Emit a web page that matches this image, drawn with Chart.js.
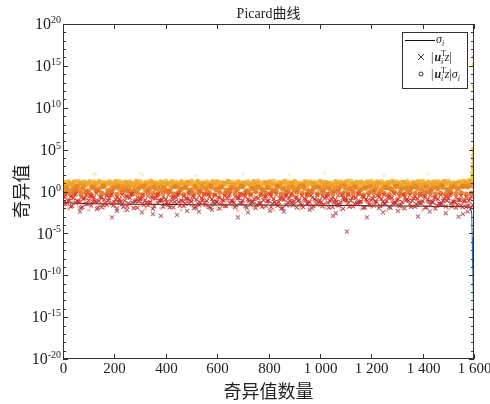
<!DOCTYPE html>
<html>
<head>
<meta charset="utf-8">
<script src="https://cdn.jsdelivr.net/npm/chart.js@4"></script>
<style>
  body { margin: 0; background: #fff; }
  #wrap { width: 490px; height: 404px; }
</style>
</head>
<body>
<div id="wrap"><canvas id="picardChart" width="490" height="404"></canvas></div>
<script>
// --- 1. Data (y values stored as powers of ten) ---
const xTicks = [0, 200, 400, 600, 800, 1000, 1200, 1400, 1600];
const xTickLabels = ['0', '200', '400', '600', '800', '1 000', '1 200', '1 400', '1 600'];
const yTickPowers = [-20, -15, -10, -5, 0, 5, 10, 15, 20];

const idxA = [0,20,40,60,80,100,120,140,160,180,200,220,240,260,280,300,320,340,360,380,
  400,420,440,460,480,500,520,540,560,580,600,620,640,660,680,700,720,740,760,780,
  800,820,840,860,880,900,920,940,960,980,1000,1020,1040,1060,1080,1100,1120,1140,1160,1180,
  1200,1220,1240,1260,1280,1300,1320,1340,1360,1380,1400,1420,1440,1460,1480,1500,1520,1540,1560,1580];
const idxB = [10,30,50,70,90,110,130,150,170,190,210,230,250,270,290,310,330,350,370,390,
  410,430,450,470,490,510,530,550,570,590,610,630,650,670,690,710,730,750,770,790,
  810,830,850,870,890,910,930,950,970,990,1010,1030,1050,1070,1090,1110,1130,1150,1170,1190,
  1210,1230,1250,1270,1290,1310,1330,1350,1370,1390,1410,1430,1450,1470,1490,1510,1530,1550,1570,1590];
const idxC = [5,25,45,65,85,105,125,145,165,185,205,225,245,265,285,305,325,345,365,385,
  405,425,445,465,485,505,525,545,565,585,605,625,645,665,685,705,725,745,765,785,
  805,825,845,865,885,905,925,945,965,985,1005,1025,1045,1065,1085,1105,1125,1145,1165,1185,
  1205,1225,1245,1265,1285,1305,1325,1345,1365,1385,1405,1425,1445,1465,1485,1505,1525,1545,1565,1585];
const idxD = [15,35,55,75,95,115,135,155,175,195,215,235,255,275,295,315,335,355,375,395,
  415,435,455,475,495,515,535,555,575,595,615,635,655,675,695,715,735,755,775,795,
  815,835,855,875,895,915,935,955,975,995,1015,1035,1055,1075,1095,1115,1135,1155,1175,1195,
  1215,1235,1255,1275,1295,1315,1335,1355,1375,1395,1415,1435,1455,1475,1495,1515,1535,1555,1575,1595];

// |u_i^T z| / sigma_i  (circles)
const ratioTop = [1.10,1.18,1.05,1.22,1.12,1.00,1.15,1.20,1.08,1.17,
  1.03,1.21,1.11,1.16,0.98,1.19,1.09,1.24,1.06,1.14,
  1.20,1.02,1.13,1.18,1.07,1.23,1.10,0.99,1.16,1.12,
  1.19,1.05,1.22,1.08,1.15,1.01,1.18,1.11,1.24,1.04,
  1.13,1.20,1.06,1.17,1.10,1.22,0.97,1.15,1.19,1.08,
  1.21,1.12,1.03,1.18,1.14,1.07,1.23,1.09,1.16,1.00,
  1.20,1.11,1.17,1.05,1.22,1.13,1.08,1.19,1.02,1.15,
  1.24,1.10,1.06,1.18,1.12,1.21,1.04,1.16,1.25,1.30];
const ratioUpper = [1.02,0.91,1.15,0.87,1.08,1.19,0.95,1.12,0.89,1.05,
  1.17,0.93,1.10,0.99,1.21,0.86,1.04,1.14,0.92,1.09,
  0.97,1.18,0.88,1.07,1.13,0.94,1.20,1.01,0.90,1.16,
  1.06,0.96,1.19,0.85,1.11,1.03,0.92,1.17,0.98,1.08,
  1.14,0.89,1.05,1.21,0.94,1.10,0.87,1.15,1.00,0.93,
  1.18,1.06,0.91,1.12,0.97,1.20,0.88,1.09,1.03,1.16,
  0.95,1.11,0.86,1.07,1.19,0.99,1.13,0.90,1.04,1.17,
  0.92,1.08,1.15,0.96,1.21,1.01,0.89,1.12,1.10,1.18];
const ratioHigh = [0.72,0.88,0.61,0.93,0.79,0.66,0.85,0.57,0.91,0.74,
  0.83,0.63,0.95,0.70,0.87,0.59,0.81,0.92,0.68,0.77,
  0.90,0.64,0.84,0.73,0.96,0.62,0.80,0.89,0.69,0.86,
  0.58,0.94,0.75,0.82,0.65,0.91,0.71,0.87,0.60,0.93,
  0.78,0.67,0.89,0.74,0.97,0.63,0.85,0.72,0.90,0.61,
  0.83,0.95,0.69,0.79,0.88,0.64,0.92,0.76,0.58,0.86,
  0.73,0.94,0.66,0.81,0.90,0.70,0.87,0.62,0.96,0.77,
  0.84,0.68,0.91,0.75,0.89,0.65,0.93,0.80,0.98,1.05];
const ratioMid = [0.35,0.12,0.48,0.22,0.55,0.08,0.41,0.29,0.58,0.17,
  0.44,0.26,0.51,0.05,0.38,0.60,0.19,0.46,0.31,0.53,
  0.14,0.40,0.57,0.24,0.49,0.10,0.36,0.59,0.21,0.45,
  0.33,0.54,0.16,0.42,0.27,0.56,0.09,0.39,0.50,0.23,
  0.47,0.13,0.58,0.30,0.43,0.18,0.52,0.34,0.06,0.48,
  0.28,0.55,0.20,0.41,0.60,0.15,0.37,0.50,0.25,0.44,
  0.11,0.53,0.32,0.46,0.22,0.57,0.39,0.18,0.51,0.29,
  0.45,0.07,0.54,0.35,0.48,0.26,0.59,0.40,0.62,0.70];
const ratioLower = [0.45,0.18,0.62,0.30,0.05,0.54,0.24,0.68,0.12,0.40,
  0.58,0.21,0.49,0.08,0.36,0.65,0.27,0.52,0.15,0.43,
  0.02,0.60,0.33,0.47,0.19,0.56,0.10,0.39,0.66,0.25,
  0.51,0.14,0.44,0.29,0.63,0.07,0.38,0.55,0.22,0.48,
  0.16,0.61,0.34,0.04,0.50,0.26,0.67,0.11,0.42,0.57,
  0.20,0.46,0.09,0.35,0.64,0.28,0.53,0.13,0.41,0.59,
  0.23,0.06,0.49,0.31,0.62,0.17,0.45,0.37,0.58,0.10,
  0.54,0.27,0.43,0.66,0.19,0.50,0.32,0.60,0.55,0.65];
const ratioLow = [-0.15,-0.32,0.02,-0.25,-0.08,-0.38,0.05,-0.20,-0.30,-0.05,
  -0.35,-0.12,0.04,-0.28,-0.18,-0.40,-0.02,-0.22,-0.33,-0.10,
  0.03,-0.27,-0.14,-0.36,-0.06,-0.24,0.00,-0.31,-0.17,-0.39,
  -0.09,-0.26,0.05,-0.19,-0.34,-0.11,-0.29,-0.03,-0.37,-0.16,
  -0.23,0.01,-0.30,-0.13,-0.41,-0.07,-0.21,-0.35,-0.04,-0.28,
  -0.12,-0.38,-0.18,0.02,-0.26,-0.33,-0.08,-0.23,-0.40,-0.15,
  -0.01,-0.29,-0.19,-0.36,-0.06,-0.25,-0.32,-0.10,-0.22,-0.37,
  -0.14,-0.02,-0.27,-0.20,-0.34,-0.09,-0.24,-0.15,-0.30,-0.18];
const ratioSpeck = [-1.6,-2.1,-1.2,-1.9,-1.4,-2.2,-1.1,-1.7,-2.0,-1.3,
  -1.8,-1.0,-2.3,-1.5,-1.9,-1.2,-2.1,-1.6,-1.4,-2.0,
  -1.1,-1.8,-1.5,-2.2,-1.3,-1.7,-2.0,-1.0,-1.9,-1.4,
  -2.1,-1.6,-1.2,-1.8,-2.3,-1.5,-1.1,-1.9,-1.7,-2.0,
  -1.3,-2.2,-1.6,-1.0,-1.8,-1.4,-2.1,-1.2,-1.9,-1.5,
  -1.7,-2.0,-1.1,-1.6,-2.2,-1.3,-1.8,-1.5,-2.1,-1.0,
  -1.9,-1.4,-1.7,-2.3,-1.2,-1.6,-2.0,-1.1,-1.8,-1.5,
  -2.2,-1.3,-1.9,-1.6,-1.0,-2.1,-1.4,-1.7,-1.2,-1.5];
const faintIdx = [120, 128, 300, 310, 520, 700, 880, 1020, 1250, 1420];
const faintExp = [2.1, 2.1, 2.2, 2.0, 1.9, 2.1, 2.0, 2.2, 1.9, 2.1];
// the last few indices, where sigma collapses
const endIdx = [1591,1592,1593,1594,1595,1595,1596,1596,1597,1597,1598,1598,1599,1599,1600,1600];
const endExp = [1.5,2.2,3.0,1.8,4.0,2.6,5.1,3.4,4.4,2.1,3.8,15.2,4.8,16.1,12.5,3.0];

// |u_i^T z|  (crosses)
const coefHigh = [-0.45,-0.62,-0.28,-0.71,-0.39,-0.55,-0.22,-0.66,-0.48,-0.33,
  -0.74,-0.41,-0.58,-0.26,-0.69,-0.37,-0.52,-0.79,-0.31,-0.60,
  -0.43,-0.68,-0.24,-0.56,-0.35,-0.72,-0.47,-0.29,-0.63,-0.40,
  -0.76,-0.51,-0.34,-0.65,-0.27,-0.59,-0.44,-0.70,-0.32,-0.54,
  -0.61,-0.38,-0.75,-0.46,-0.23,-0.67,-0.50,-0.36,-0.73,-0.42,
  -0.57,-0.30,-0.64,-0.49,-0.78,-0.34,-0.58,-0.25,-0.69,-0.45,
  -0.53,-0.71,-0.39,-0.62,-0.28,-0.56,-0.74,-0.43,-0.60,-0.35,
  -0.66,-0.48,-0.77,-0.40,-0.59,-0.31,-0.70,-0.52,-0.63,-0.58];
const coefSpread = [-0.62,-1.05,-0.38,-1.31,-0.80,-0.51,-1.18,-0.70,-1.42,-0.45,
  -0.93,-1.25,-0.57,-0.33,-1.10,-0.85,-1.38,-0.66,-0.48,-1.02,
  -1.29,-0.74,-0.41,-1.15,-0.89,-0.55,-1.45,-0.97,-0.36,-1.21,
  -0.68,-1.08,-0.50,-1.34,-0.79,-0.43,-1.12,-0.91,-1.40,-0.60,
  -0.35,-1.27,-0.83,-0.53,-1.16,-0.72,-1.44,-0.98,-0.46,-1.06,
  -1.33,-0.64,-0.88,-1.20,-0.40,-1.01,-0.77,-1.36,-0.58,-1.13,
  -0.86,-0.49,-1.24,-0.69,-1.41,-0.95,-0.37,-1.09,-0.81,-1.30,
  -0.54,-1.17,-0.73,-1.43,-0.90,-0.44,-1.22,-1.00,-1.10,-0.85];
const coefMid = [-0.95,-1.12,-0.78,-1.21,-0.88,-1.05,-0.72,-1.16,-0.98,-0.83,
  -1.24,-0.91,-1.08,-0.76,-1.19,-0.87,-1.02,-1.28,-0.81,-1.10,
  -0.93,-1.18,-0.74,-1.06,-0.85,-1.22,-0.97,-0.79,-1.13,-0.90,
  -1.26,-1.01,-0.84,-1.15,-0.77,-1.09,-0.94,-1.20,-0.82,-1.04,
  -1.11,-0.88,-1.25,-0.96,-0.73,-1.17,-1.00,-0.86,-1.23,-0.92,
  -1.07,-0.80,-1.14,-0.99,-1.27,-0.84,-1.08,-0.75,-1.19,-0.95,
  -1.03,-1.21,-0.89,-1.12,-0.78,-1.06,-1.24,-0.93,-1.10,-0.85,
  -1.16,-0.98,-1.27,-0.90,-1.09,-0.81,-1.20,-1.02,-1.15,-1.10];
const coefDeep = [-1.35,-1.72,-1.12,-1.88,-1.47,-1.20,-1.95,-1.58,-1.05,-1.66,
  -1.28,-1.83,-1.41,-1.99,-1.16,-1.62,-1.37,-1.78,-1.09,-1.54,
  -1.91,-1.25,-1.69,-1.44,-1.02,-1.85,-1.31,-1.60,-1.97,-1.19,
  -1.50,-1.76,-1.08,-1.65,-1.39,-1.92,-1.23,-1.57,-1.81,-1.14,
  -1.46,-1.70,-1.98,-1.29,-1.63,-1.11,-1.86,-1.40,-1.74,-1.21,
  -1.55,-1.93,-1.33,-1.67,-1.04,-1.80,-1.45,-1.26,-1.89,-1.59,
  -1.18,-1.73,-1.42,-1.96,-1.30,-1.64,-1.07,-1.84,-1.52,-1.36,
  -1.90,-1.24,-1.68,-1.48,-1.13,-1.79,-1.56,-1.87,-1.70,-1.60];
const coefLow = [-1.55,-1.82,-1.35,-1.96,-1.48,-1.70,-1.28,-1.88,-1.60,-1.41,
  -2.02,-1.52,-1.77,-1.31,-1.93,-1.45,-1.66,-2.08,-1.38,-1.80,
  -1.58,-1.90,-1.25,-1.73,-1.44,-1.99,-1.62,-1.36,-1.85,-1.50,
  -2.05,-1.68,-1.42,-1.87,-1.33,-1.75,-1.56,-1.95,-1.39,-1.71,
  -1.83,-1.47,-2.03,-1.61,-1.29,-1.91,-1.65,-1.43,-1.98,-1.53,
  -1.76,-1.34,-1.86,-1.63,-2.06,-1.40,-1.78,-1.30,-1.94,-1.57,
  -1.69,-1.97,-1.46,-1.84,-1.32,-1.72,-2.01,-1.51,-1.81,-1.41,
  -1.89,-1.59,-2.04,-1.49,-1.79,-1.37,-1.92,-1.67,-1.85,-1.90];
const outlierIdx = [66,132,191,210,250,307,350,381,444,483,529,580,681,720,806,860,960,1051,1062,1105,1183,1246,1304,1382,1428,1490,1540,1557,1575];
const outlierExp = [-2.4,-2.1,-3.1,-2.3,-2.2,-2.5,-2.7,-2.9,-2.8,-2.3,-2.4,-2.2,-3.1,-2.5,-2.3,-2.4,-2.2,-2.9,-2.6,-4.8,-3.1,-2.5,-2.3,-3.0,-2.4,-2.6,-3.0,-2.7,-2.4];

// sigma_i  (line)
const sigmaIdx = [0,40,100,200,400,600,800,1000,1200,1400,1500,1560,1585,1591,1593,1595,1597,1599,1600];
const sigmaExp = [-1.3,-1.4,-1.45,-1.5,-1.55,-1.6,-1.62,-1.65,-1.7,-1.75,-1.78,-1.82,-1.88,-2.6,-5.5,-9,-12,-15.5,-18.5];

function pts(xs, exps) {
    return xs.map((x, i) => ({ x: x, y: Math.pow(10, exps[i]) }));
}

// --- 2. Datasets ---
function circles(data, color, order, r) {
    return { data, order, pointStyle: 'circle', pointRadius: r || 2.6, borderWidth: 0,
             borderColor: color, backgroundColor: color };
}
function crosses(data, color, order) {
    return { data, order, pointStyle: 'crossRot', pointRadius: 2.8, borderWidth: 1.1,
             borderColor: color, backgroundColor: color };
}

const datasets = [
    crosses(pts(outlierIdx, outlierExp), 'rgba(165,80,100,0.85)', 1),
    crosses(pts(idxB, coefLow), 'rgba(180,40,48,0.8)', 2),
    crosses(pts(idxD, coefDeep), 'rgba(196,38,36,0.85)', 3),
    crosses(pts(idxA, coefMid), 'rgba(208,36,26,0.9)', 4),
    crosses(pts(idxC, coefSpread), 'rgba(216,48,26,0.9)', 5),
    crosses(pts(idxB, coefHigh), 'rgba(226,66,28,0.9)', 6),
    { type: 'line', data: pts(sigmaIdx, sigmaExp), order: 7, showLine: true, pointRadius: 0,
      borderWidth: 1, borderColor: '#2a2222', tension: 0,
      segment: { borderColor: c => c.p1.parsed.x > 1591 ? '#2f6fae' : undefined } },
    circles(pts(idxA, ratioSpeck), 'rgba(236,150,90,0.5)', 8, 1.8),
    circles(pts(idxB, ratioLow), 'rgba(226,108,30,0.85)', 9),
    circles(pts(idxD, ratioLower), 'rgba(230,128,30,0.85)', 10),
    circles(pts(idxA, ratioMid), 'rgba(233,140,32,0.85)', 11),
    circles(pts(idxB, ratioHigh), 'rgba(237,160,38,0.85)', 12),
    circles(pts(idxC, ratioUpper), 'rgba(239,170,44,0.85)', 13),
    circles(pts(idxA, ratioTop), 'rgba(242,182,52,0.85)', 14),
    circles(pts(faintIdx, faintExp), 'rgba(246,222,160,0.5)', 15, 1.6),
    circles(pts(endIdx, endExp), 'rgba(240,190,60,0.85)', 16, 2)
];

// --- 3. Axes, ticks, labels and legend drawn on top ---
const SERIF = "'Liberation Serif', 'Times New Roman', serif";
const CJK = "'Noto Sans CJK SC', sans-serif";

function drawRuns(ctx, runs, x, y) {
    runs.forEach(r => {
        ctx.font = r.font;
        ctx.fillText(r.t, x, y + (r.dy || 0));
        if (!r.stack) x += ctx.measureText(r.t).width + (r.gap || 0);
    });
    return x;
}

const frame = {
    id: 'frame',
    afterDraw(chart) {
        const ctx = chart.ctx;
        const a = chart.chartArea;
        const xs = chart.scales.x, ys = chart.scales.y;
        ctx.save();
        ctx.strokeStyle = '#333';
        ctx.fillStyle = '#222';
        ctx.lineWidth = 1;
        ctx.strokeRect(a.left + 0.5, a.top + 0.5, a.right - a.left - 1, a.bottom - a.top - 1);

        // x ticks (inward, top and bottom) and labels
        ctx.font = '15px ' + SERIF;
        ctx.textAlign = 'center';
        ctx.textBaseline = 'top';
        xTicks.forEach((v, i) => {
            const px = Math.round(xs.getPixelForValue(v)) + 0.5;
            ctx.beginPath();
            ctx.moveTo(px, a.bottom); ctx.lineTo(px, a.bottom - 5);
            ctx.moveTo(px, a.top); ctx.lineTo(px, a.top + 5);
            ctx.stroke();
            ctx.fillText(xTickLabels[i], px, a.bottom + 3);
        });

        // y ticks: major every 5 decades, minor every decade
        for (let p = -20; p <= 20; p++) {
            const py = Math.round(ys.getPixelForValue(Math.pow(10, p))) + 0.5;
            const len = p % 5 === 0 ? 5 : 3;
            ctx.beginPath();
            ctx.moveTo(a.left, py); ctx.lineTo(a.left + len, py);
            ctx.moveTo(a.right, py); ctx.lineTo(a.right - len, py);
            ctx.stroke();
        }
        ctx.textAlign = 'right';
        yTickPowers.forEach(p => {
            const py = ys.getPixelForValue(Math.pow(10, p));
            const sup = String(p);
            ctx.font = '10px ' + SERIF;
            ctx.textBaseline = 'alphabetic';
            const w = ctx.measureText(sup).width;
            ctx.fillText(sup, a.left - 2, py - 1);
            ctx.font = '16px ' + SERIF;
            ctx.textBaseline = 'middle';
            ctx.fillText('10', a.left - 2 - w, py + 1);
        });

        // title and axis titles
        ctx.textAlign = 'center';
        ctx.textBaseline = 'middle';
        ctx.font = '14px ' + SERIF + ', ' + CJK;
        ctx.fillText('Picard曲线', (a.left + a.right) / 2, 14);
        ctx.font = '18px ' + CJK;
        ctx.fillText('奇异值数量', (a.left + a.right) / 2, 391);
        ctx.save();
        ctx.translate(21, (a.top + a.bottom) / 2);
        ctx.rotate(-Math.PI / 2);
        ctx.fillText('奇异值', 0, 0);
        ctx.restore();

        // legend
        const L = { x: 402, y: 32, w: 65, h: 56 };
        ctx.fillStyle = '#fff';
        ctx.fillRect(L.x, L.y, L.w, L.h);
        ctx.strokeStyle = '#333';
        ctx.strokeRect(L.x + 0.5, L.y + 0.5, L.w, L.h);
        ctx.fillStyle = '#222';
        ctx.textAlign = 'left';
        ctx.textBaseline = 'alphabetic';
        ctx.strokeStyle = '#111';
        ctx.beginPath();
        ctx.moveTo(L.x + 3, 40.5); ctx.lineTo(L.x + 33, 40.5);
        ctx.stroke();
        drawRuns(ctx, [
            { t: 'σ', font: 'italic 12px ' + SERIF },
            { t: 'i', font: 'italic 8px ' + SERIF, dy: 3 }
        ], L.x + 34, 43);

        // cross marker
        ctx.strokeStyle = '#333';
        ctx.beginPath();
        ctx.moveTo(418, 54); ctx.lineTo(424, 60);
        ctx.moveTo(424, 54); ctx.lineTo(418, 60);
        ctx.stroke();
        const coefRuns = [
            { t: '|', font: '12px ' + SERIF, gap: 1 },
            { t: 'u', font: 'bold italic 12px ' + SERIF },
            { t: 'T', font: '8px ' + SERIF, dy: -5, stack: true },
            { t: 'i', font: 'italic 8px ' + SERIF, dy: 3, gap: 1.5 },
            { t: 'z', font: 'italic 12px ' + SERIF },
            { t: '|', font: '12px ' + SERIF }
        ];
        drawRuns(ctx, coefRuns, 431, 61);

        // circle marker
        ctx.beginPath();
        ctx.arc(421, 74, 2, 0, Math.PI * 2);
        ctx.stroke();
        const xe = drawRuns(ctx, coefRuns, 431, 78);
        drawRuns(ctx, [
            { t: 'σ', font: 'italic 12px ' + SERIF },
            { t: 'i', font: 'italic 8px ' + SERIF, dy: 3 }
        ], xe, 78);
        ctx.restore();
    }
};

// --- 4. Chart ---
const ctx = document.getElementById('picardChart').getContext('2d');
const picardChart = new Chart(ctx, {
    type: 'scatter',
    data: { datasets },
    options: {
        responsive: false,
        animation: false,
        layout: { padding: { left: 63, top: 24, right: 16, bottom: 45 } },
        scales: {
            x: { type: 'linear', min: 0, max: 1600, display: false },
            y: { type: 'logarithmic', min: 1e-20, max: 1e20, display: false }
        },
        plugins: {
            legend: { display: false },
            tooltip: { enabled: false }
        }
    },
    plugins: [frame]
});
</script>
</body>
</html>
